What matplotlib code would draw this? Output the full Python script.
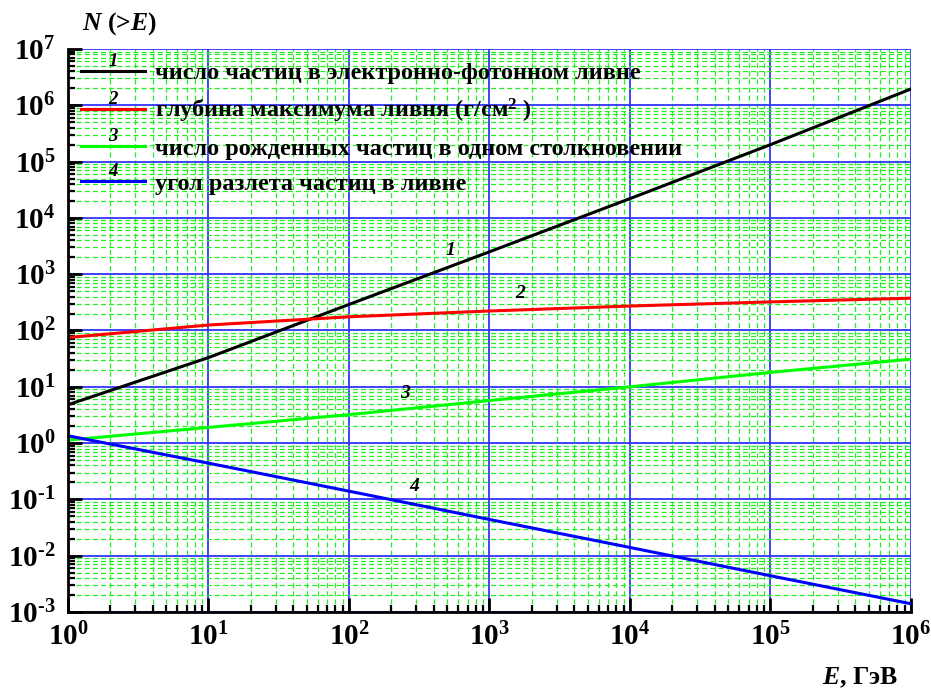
import matplotlib
matplotlib.use("Agg")
import matplotlib.pyplot as plt
import numpy as np
from matplotlib.legend_handler import HandlerLine2D
from matplotlib.text import Text
from matplotlib.ticker import LogLocator, NullFormatter, FuncFormatter, FixedLocator

plt.rcParams['font.family'] = ['Liberation Serif', 'DejaVu Serif']
plt.rcParams['font.weight'] = 'bold'
plt.rcParams['mathtext.fontset'] = 'custom'
plt.rcParams['mathtext.rm'] = 'Liberation Serif:bold'
plt.rcParams['mathtext.it'] = 'Liberation Serif:bold:italic'
plt.rcParams['mathtext.bf'] = 'Liberation Serif:bold'
plt.rcParams['mathtext.default'] = 'rm'

# Data
energy = [1, 10, 100, 1e3, 1e4, 1e5, 1e6]
n_electrons = [4.8, 33, 290, 2500, 22000, 2.0e5, 1.95e6]
depth_max = [75, 125, 175, 222, 272, 322, 375]
n_produced = [1.13, 1.9, 3.2, 5.7, 10, 18, 31]
angle = [1.35, 0.44, 0.14, 0.044, 0.014, 0.0044, 0.0014]

x_ticks = [1, 10, 100, 1e3, 1e4, 1e5, 1e6]
y_ticks = [1e-3, 1e-2, 1e-1, 1, 10, 100, 1e3, 1e4, 1e5, 1e6, 1e7]

labels = ["число частиц в электронно-фотонном ливне",
          "глубина максимума ливня (г/см$^{2}$ )",
          "число рожденных частиц в одном столкновении",
          "угол разлета частиц в ливне"]
numbers = ["1", "2", "3", "4"]
colors = ["#000000", "#ff0000", "#00ff00", "#0000ff"]
series = [n_electrons, depth_max, n_produced, angle]
curve_label_pos = [(525, 2600), (1650, 450), (250, 7.6), (290, 0.17)]


class NumHandler(HandlerLine2D):
    def __init__(self, num, **kw):
        super().__init__(**kw)
        self.num = num

    def create_artists(self, legend, orig_handle, xdescent, ydescent,
                       width, height, fontsize, trans):
        arts = super().create_artists(legend, orig_handle, xdescent, ydescent,
                                      width, height, fontsize, trans)
        y = (height - ydescent) / 2
        t = Text(width / 2 - xdescent, y + fontsize * 0.22, self.num,
                 ha='center', va='baseline', fontsize=13.5,
                 fontstyle='italic', fontweight='bold',
                 family='Liberation Serif')
        t.set_transform(trans)
        arts.append(t)
        return arts


def pow_fmt(v, pos):
    e = int(round(np.log10(v)))
    s = str(abs(e))
    if e < 0:
        s = "\u2010" + s
    return "10$^{%s}$" % s


fig = plt.figure(figsize=(9.31, 6.93), dpi=100)
ax = fig.add_axes([0.073, 0.1169, 0.9055, 0.8124])
ax.set_xscale('log')
ax.set_yscale('log')
ax.set_xlim(1, 1e6)
ax.set_ylim(1e-3, 1e7)

lines = []
for vals, c, lab in zip(series, colors, labels):
    ln, = ax.plot(energy, vals, color=c, lw=2.2, label=lab, zorder=3)
    lines.append(ln)

for (x, y), num in zip(curve_label_pos, numbers):
    ax.text(x, y, num, fontsize=14, fontstyle='italic', fontweight='bold',
            ha='center', va='center', zorder=4)

ax.xaxis.set_major_locator(FixedLocator(x_ticks))
ax.yaxis.set_major_locator(FixedLocator(y_ticks))
ax.xaxis.set_minor_locator(LogLocator(base=10, subs=np.arange(2, 10), numticks=20))
ax.yaxis.set_minor_locator(LogLocator(base=10, subs=np.arange(2, 10), numticks=20))
ax.xaxis.set_major_formatter(FuncFormatter(pow_fmt))
ax.yaxis.set_major_formatter(FuncFormatter(pow_fmt))
ax.xaxis.set_minor_formatter(NullFormatter())
ax.yaxis.set_minor_formatter(NullFormatter())

ax.grid(which='major', color='#3333ff', lw=1.3, ls='-', zorder=1)
ax.grid(which='minor', color='#22ee22', lw=0.9, ls=(0, (4, 2.5)), zorder=1)
ax.set_axisbelow(True)

for s in ['top', 'right']:
    ax.spines[s].set_visible(False)
for s in ['left', 'bottom']:
    ax.spines[s].set_linewidth(2)
    ax.spines[s].set_zorder(5)

ax.tick_params(which='major', direction='in', length=10, width=2, labelsize=21, pad=8,
               top=False, right=False)
ax.tick_params(axis='y', which='major', pad=9)
ax.tick_params(which='minor', direction='in', length=5, width=1.6,
               top=False, right=False)

leg = ax.legend(handles=lines, loc='upper left', frameon=False,
                fontsize=17.5, handlelength=2.6, handletextpad=0.45,
                labelspacing=0.52, borderaxespad=0.15, borderpad=0.4,
                handler_map={ln: NumHandler(n) for ln, n in zip(lines, numbers)})
leg.set_zorder(6)

fig.text(0.088, 0.966, r"$\mathit{N}$ (>$\mathit{E}$)", fontsize=18.5, ha='left', va='center')
fig.text(0.965, 0.022, r"$\mathit{E}$, ГэВ", fontsize=18.5, ha='right', va='center')

fig.savefig("out.png", dpi=100, facecolor='white')
